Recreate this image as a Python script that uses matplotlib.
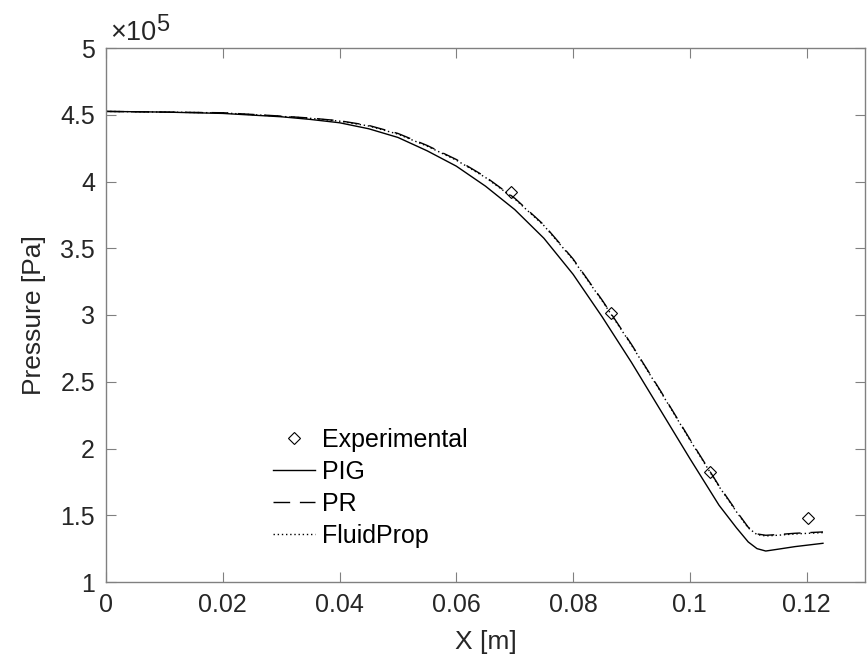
import matplotlib
matplotlib.use("Agg")
import matplotlib.pyplot as plt
from matplotlib.ticker import FuncFormatter, MultipleLocator

plt.rcParams['font.family'] = ['Liberation Sans', 'DejaVu Sans']

# Data (x in m, pressure in Pa)
x_pig = [0.0, 0.01, 0.02, 0.03, 0.035, 0.04, 0.045, 0.05, 0.055, 0.06, 0.065, 0.07,
         0.075, 0.08, 0.085, 0.09, 0.095, 0.1, 0.105, 0.108, 0.110, 0.1115, 0.113,
         0.115, 0.118, 0.1228]
p_pig = [4.525e5, 4.52e5, 4.51e5, 4.485e5, 4.465e5, 4.44e5, 4.395e5, 4.33e5, 4.23e5,
         4.115e5, 3.965e5, 3.79e5, 3.575e5, 3.305e5, 2.985e5, 2.645e5, 2.285e5, 1.925e5,
         1.575e5, 1.405e5, 1.30e5, 1.25e5, 1.232e5, 1.245e5, 1.265e5, 1.29e5]

x_pr = [0.0, 0.01, 0.02, 0.03, 0.035, 0.04, 0.045, 0.05, 0.055, 0.06, 0.065, 0.07,
        0.075, 0.08, 0.085, 0.09, 0.095, 0.1, 0.105, 0.108, 0.110, 0.1115, 0.113,
        0.115, 0.118, 0.1228]
p_pr = [4.525e5, 4.52e5, 4.515e5, 4.49e5, 4.475e5, 4.455e5, 4.42e5, 4.36e5, 4.27e5,
        4.165e5, 4.035e5, 3.875e5, 3.675e5, 3.42e5, 3.11e5, 2.78e5, 2.43e5, 2.07e5,
        1.72e5, 1.53e5, 1.41e5, 1.36e5, 1.35e5, 1.355e5, 1.365e5, 1.375e5]

x_fp = [0.0, 0.01, 0.02, 0.03, 0.035, 0.04, 0.045, 0.05, 0.055, 0.06, 0.065, 0.07,
        0.075, 0.08, 0.085, 0.09, 0.095, 0.1, 0.105, 0.108, 0.110, 0.1115, 0.113,
        0.115, 0.118, 0.1228]
p_fp = [4.525e5, 4.52e5, 4.514e5, 4.488e5, 4.473e5, 4.452e5, 4.416e5, 4.355e5, 4.265e5,
        4.16e5, 4.03e5, 3.87e5, 3.67e5, 3.415e5, 3.105e5, 2.775e5, 2.425e5, 2.065e5,
        1.715e5, 1.525e5, 1.405e5, 1.355e5, 1.345e5, 1.35e5, 1.36e5, 1.37e5]

x_exp = [0.0694, 0.0865, 0.1035, 0.1203]
p_exp = [3.92e5, 3.015e5, 1.824e5, 1.479e5]

fig = plt.figure(figsize=(8.67, 6.63), dpi=100)
ax = fig.add_axes([106/867, 1-582/663, 759/867, 534/663])

ax.plot(x_exp, p_exp, linestyle='none', marker='D', markersize=6.5,
        markerfacecolor='white', markeredgecolor='black', markeredgewidth=0.8,
        label='Experimental')
ax.plot(x_pig, p_pig, color='black', linewidth=1.0, linestyle='-', label='PIG')
ax.plot(x_pr, p_pr, color='black', linewidth=1.0, linestyle=(0, (12, 7)), label='PR')
ax.plot(x_fp, p_fp, color='black', linewidth=1.0, linestyle=(0, (1, 2)), label='FluidProp')

ax.set_xlim(0, 0.13)
ax.set_ylim(1e5, 5e5)
ax.xaxis.set_major_locator(MultipleLocator(0.02))
ax.yaxis.set_major_locator(MultipleLocator(0.5e5))
ax.xaxis.set_major_formatter(FuncFormatter(lambda v, p: f"{v:g}"))
ax.yaxis.set_major_formatter(FuncFormatter(lambda v, p: f"{v/1e5:g}"))

gray = '#808080'
text_c = '#262626'
for s in ax.spines.values():
    s.set_color(gray)
    s.set_linewidth(1.0)
ax.tick_params(direction='in', length=7, width=0.8, color=gray, labelsize=18,
               labelcolor=text_c, top=True, right=True, pad=8)

ax.set_xlabel('X [m]', fontsize=19, color=text_c, labelpad=9)
ax.set_ylabel('Pressure [Pa]', fontsize=19, color=text_c, labelpad=10)

ax.text(0.005, 1.015, '×10', transform=ax.transAxes, fontsize=19.5,
        color=text_c, ha='left', va='baseline')
ax.text(0.066, 1.032, '5', transform=ax.transAxes, fontsize=17,
        color=text_c, ha='left', va='baseline')

leg = ax.legend(loc='upper left', bbox_to_anchor=(0.22, 0.288), frameon=False,
                fontsize=18, handlelength=1.7, handletextpad=0.25,
                labelspacing=0.32, borderpad=0, borderaxespad=0)
for t in leg.get_texts():
    t.set_color('black')

fig.savefig('out.png', dpi=100)
